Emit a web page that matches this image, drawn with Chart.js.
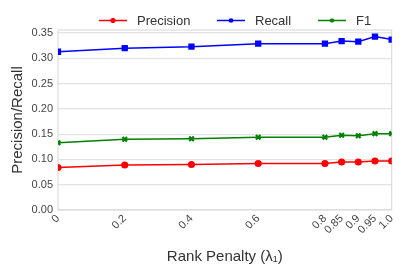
<!DOCTYPE html>
<html><head><meta charset="utf-8">
<script src="https://cdn.jsdelivr.net/npm/chart.js@4.4.0/dist/chart.umd.min.js"></script>
<style>html,body{margin:0;padding:0;background:#fff}#wrap{width:403px;height:264px}</style>
</head><body><div id="wrap"><canvas id="c" width="403" height="264"></canvas></div>
<script>
const lambdas = [0, 0.2, 0.4, 0.6, 0.8, 0.85, 0.9, 0.95, 1.0];
const tickLabels = ["0", "0.2", "0.4", "0.6", "0.8", "0.85", "0.9", "0.95", "1.0"];
const precision = [0.084, 0.089, 0.090, 0.092, 0.092, 0.095, 0.095, 0.097, 0.097];
const recall = [0.313, 0.320, 0.323, 0.329, 0.329, 0.334, 0.333, 0.343, 0.337];
const f1 = [0.133, 0.140, 0.141, 0.144, 0.144, 0.148, 0.147, 0.151, 0.151];
const seriesNames = ["Precision", "Recall", "F1"];

const FONT = "'Liberation Sans', Arial, sans-serif";
const mk = (vals) => lambdas.map((x, i) => ({x: x, y: vals[i]}));

const legendPlugin = {
  id: 'lineLegend',
  afterDraw(chart) {
    const ctx = chart.ctx;
    const items = chart.data.datasets;
    const xs = [99, 217, 318];
    ctx.save();
    ctx.font = "13px " + FONT;
    ctx.textBaseline = 'middle';
    items.forEach((ds, i) => {
      const y = 20.5, x0 = xs[i];
      ctx.strokeStyle = ds.borderColor; ctx.lineWidth = 1.5;
      ctx.beginPath(); ctx.moveTo(x0, y); ctx.lineTo(x0 + 28, y); ctx.stroke();
      ctx.fillStyle = ds.backgroundColor;
      ctx.strokeStyle = ds.borderColor;
      ctx.lineWidth = ds.pointBorderWidth || 1;
      Chart.helpers.drawPoint(ctx, {pointStyle: ds.pointStyle, radius: 2.2, rotation: 0, borderWidth: ds.pointBorderWidth || 1}, x0 + 14, y);
      ctx.fillStyle = '#333';
      ctx.fillText(ds.label, x0 + 38, y + 1);
    });
    ctx.restore();
  }
};
const framePlugin = {
  id: 'frame',
  beforeDatasetsDraw(chart) {
    const a = chart.chartArea, ctx = chart.ctx;
    ctx.save(); ctx.strokeStyle = '#dcdcdc'; ctx.lineWidth = 1.2;
    ctx.strokeRect(a.left, a.top, a.right - a.left, a.bottom - a.top);
    ctx.restore();
  }
};

new Chart(document.getElementById('c'), {
  type: 'line',
  data: {
    datasets: [
      {label: seriesNames[0], data: mk(precision), borderColor: '#ff0000', backgroundColor: '#ff0000', pointStyle: 'circle', pointRadius: 2.8, borderWidth: 1.5},
      {label: seriesNames[1], data: mk(recall), borderColor: '#0000ff', backgroundColor: '#0000ff', pointStyle: 'rect', pointRadius: 3.4, borderWidth: 1.5},
      {label: seriesNames[2], data: mk(f1), borderColor: '#008000', backgroundColor: '#008000', pointStyle: 'crossRot', pointRadius: 3.2, pointBorderWidth: 2.2, borderWidth: 1.5}
    ]
  },
  options: {
    responsive: false, animation: false,
    layout: {padding: {top: 30, right: 3, left: 9, bottom: 0}},
    plugins: {legend: {display: false}, tooltip: {enabled: false}},
    elements: {line: {tension: 0}},
    scales: {
      x: {
        type: 'linear', min: 0, max: 1.0,
        afterBuildTicks: (s) => { s.ticks = lambdas.map(v => ({value: v})); },
        afterFit: (s) => { s.height = 54; },
        ticks: {
          autoSkip: false, maxRotation: 45, minRotation: 45, padding: 2,
          color: '#444', font: {family: FONT, size: 11},
          callback: (v, i) => tickLabels[i]
        },
        grid: {display: false, drawTicks: false},
        border: {display: false},
        title: {display: true, text: 'Rank Penalty (λ₁)', color: '#333', font: {family: FONT, size: 15}, padding: {top: 0, bottom: -2}}
      },
      y: {
        min: 0, max: 0.356,
        afterBuildTicks: (s) => { s.ticks = [0, 0.05, 0.1, 0.15, 0.2, 0.25, 0.3, 0.35].map(v => ({value: v})); },
        afterFit: (s) => { s.width = 49; },
        ticks: {color: '#444', font: {family: FONT, size: 11}, padding: 5, callback: (v) => v.toFixed(2)},
        grid: {color: '#e2e2e2', lineWidth: 1.2, drawTicks: false},
        border: {display: false},
        title: {display: true, text: 'Precision/Recall', color: '#333', font: {family: FONT, size: 15}, padding: {top: 0, bottom: 0}}
      }
    }
  },
  plugins: [framePlugin, legendPlugin]
});
</script></body></html>
